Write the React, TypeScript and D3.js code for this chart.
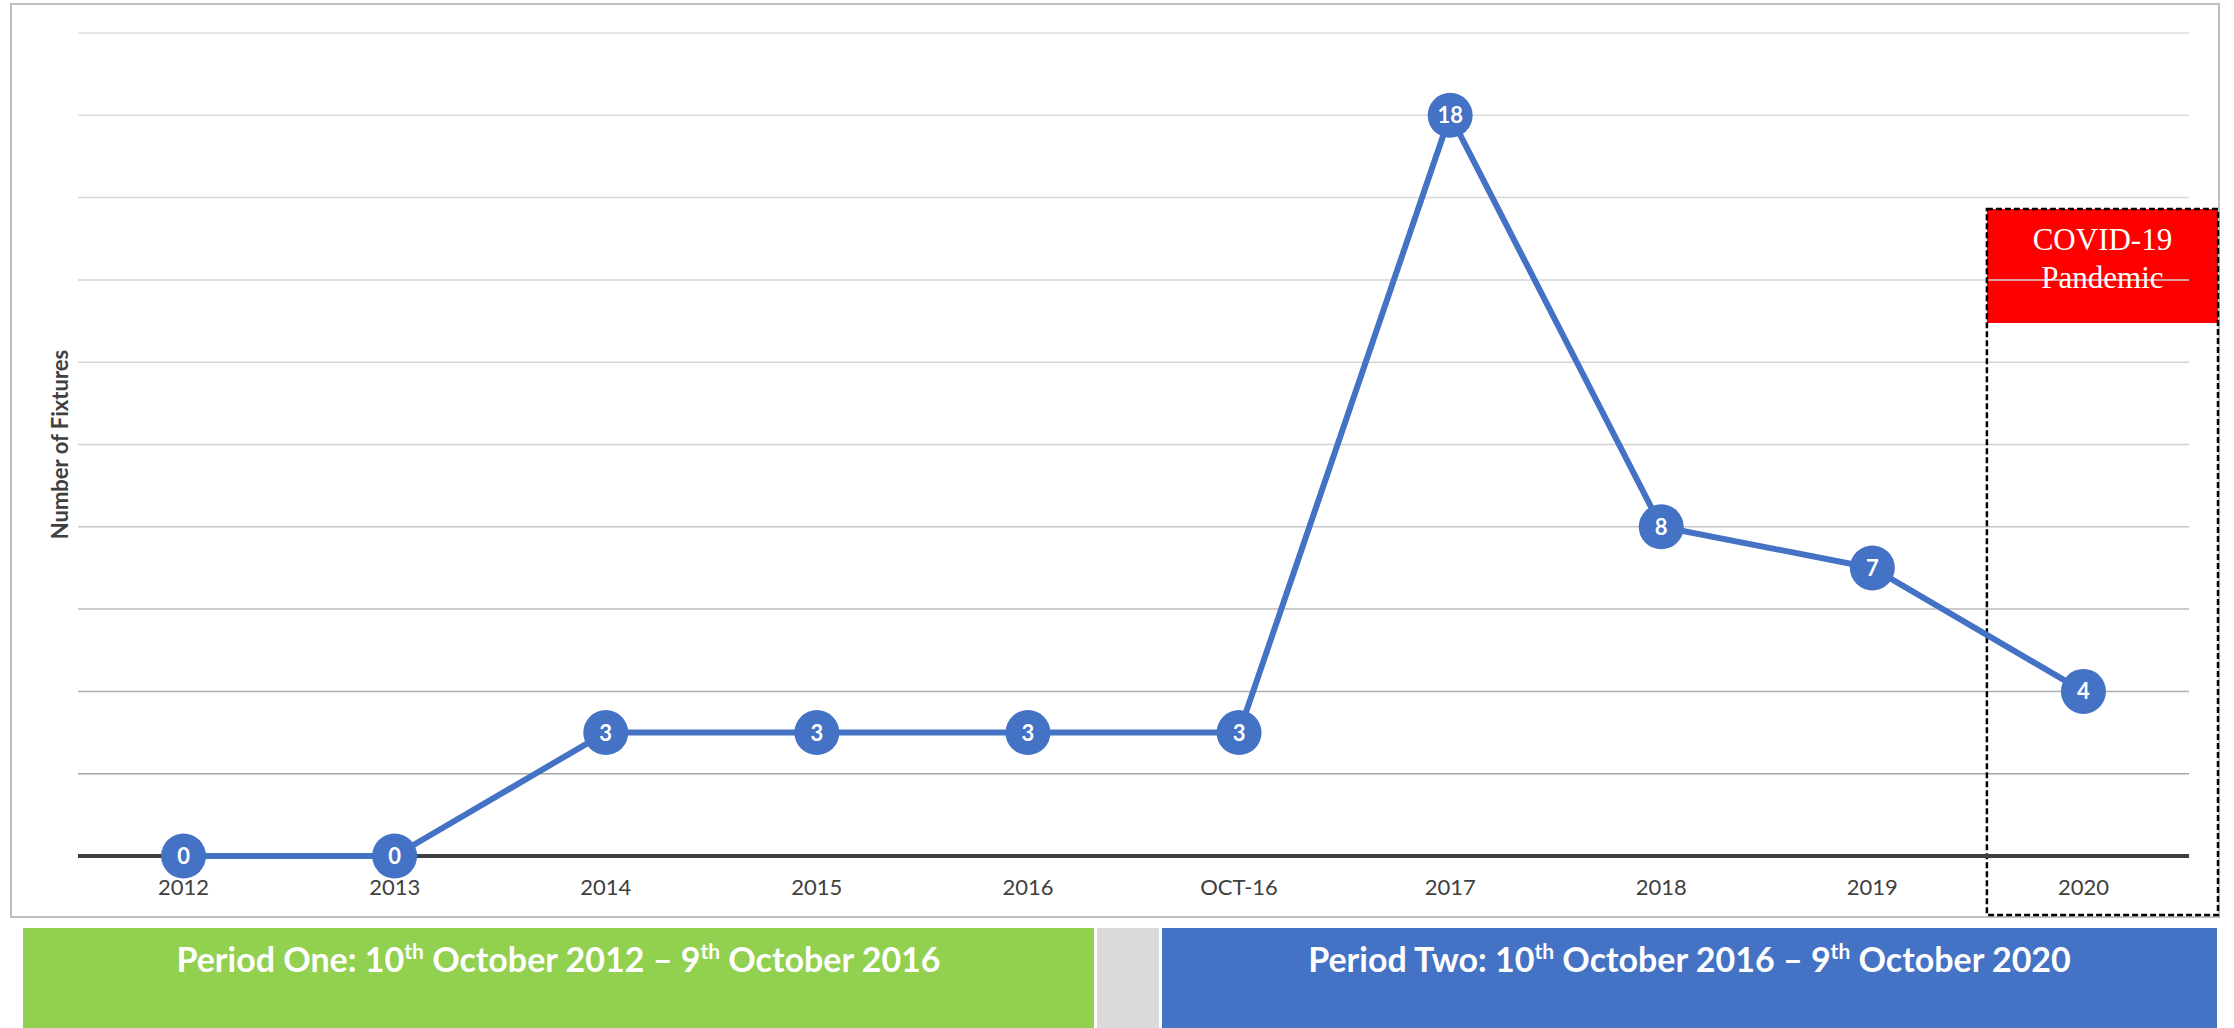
import * as d3 from "d3";

const categories = ["2012", "2013", "2014", "2015", "2016", "OCT-16", "2017", "2018", "2019", "2020"];
const fixtures = [0, 0, 3, 3, 3, 3, 18, 8, 7, 4];
const yTicks = [0, 2, 4, 6, 8, 10, 12, 14, 16, 18, 20];

const periods = [
  { label: "Period One: 10", sup1: "th", mid: " October 2012 – 9", sup2: "th", end: " October 2016", x0: 23, x1: 1094, fill: "#92D050" },
  { label: "", sup1: "", mid: "", sup2: "", end: "", x0: 1097, x1: 1159, fill: "#D9D9D9" },
  { label: "Period Two: 10", sup1: "th", mid: " October 2016 – 9", sup2: "th", end: " October 2020", x0: 1162, x1: 2217, fill: "#4472C4" },
];

export default function App() {
  const width = 2234;
  const height = 1028;
  const plot = { left: 78, right: 2189, top: 33, bottom: 856 };

  const x = d3.scaleBand<string>().domain(categories).range([plot.left, plot.right]);
  const y = d3.scaleLinear().domain([0, 20]).range([plot.bottom, plot.top]);
  const cx = (c: string) => (x(c) ?? 0) + x.bandwidth() / 2;
  const gridColor = d3.scaleLinear<string>().domain([2, 10, 20]).range(["#A6A6A6", "#CFCFCF", "#DEDEDE"]);

  const line = d3
    .line<number>()
    .x((_, i) => cx(categories[i]))
    .y((d) => y(d));

  const covidX0 = x("2020")! + 9;
  const covidX1 = 2218;
  const font = "Lato, 'Open Sans', sans-serif";
  const serif = "'Liberation Serif', 'DejaVu Serif', serif";

  return (
    <svg
      width={width}
      height={height}
      viewBox={`0 0 ${width} ${height}`}
      style={{ position: "absolute", left: 0, top: 0, background: "#fff" }}
    >
      {/* chart frame */}
      <rect x={11} y={4} width={2208} height={913} fill="#fff" stroke="#BFBFBF" strokeWidth={2} />

      {/* covid highlight fill */}
      <rect x={covidX0} y={209} width={covidX1 - covidX0} height={114} fill="#FF0000" />

      {/* grid */}
      {yTicks.slice(1).map((t) => (
        <line key={t} x1={plot.left} x2={plot.right} y1={y(t)} y2={y(t)} stroke={gridColor(t)} strokeWidth={1.5} />
      ))}

      <text x={(covidX0 + covidX1) / 2} y={250} textAnchor="middle" fill="#fff" fontFamily={serif} fontSize={31}>
        COVID-19
      </text>
      <text x={(covidX0 + covidX1) / 2} y={288} textAnchor="middle" fill="#fff" fontFamily={serif} fontSize={31}>
        Pandemic
      </text>

      {/* covid dashed outline */}
      <rect
        x={covidX0}
        y={209}
        width={covidX1 - covidX0}
        height={915 - 209}
        fill="none"
        stroke="#000"
        strokeWidth={2.5}
        strokeDasharray="6 3"
      />

      {/* baseline axis */}
      <line x1={plot.left} x2={plot.right} y1={y(0)} y2={y(0)} stroke="#404040" strokeWidth={4} />

      {/* x tick labels */}
      {categories.map((c) => (
        <text key={c} x={cx(c)} y={895} textAnchor="middle" fill="#404040" fontFamily={font} fontSize={22}>
          {c}
        </text>
      ))}

      {/* y axis title */}
      <text
        transform={`translate(68, ${(plot.top + plot.bottom) / 2}) rotate(-90)`}
        textAnchor="middle"
        fill="#404040"
        fontFamily={font}
        fontWeight="bold"
        fontSize={22}
      >
        Number of Fixtures
      </text>

      {/* series */}
      <path d={line(fixtures) ?? ""} fill="none" stroke="#4472C4" strokeWidth={6} strokeLinejoin="round" />
      {fixtures.map((v, i) => (
        <g key={categories[i]}>
          <circle cx={cx(categories[i])} cy={y(v)} r={22.5} fill="#4472C4" />
          <text
            x={cx(categories[i])}
            y={y(v) + 8}
            textAnchor="middle"
            fill="#fff"
            fontFamily={font}
            fontWeight="bold"
            fontSize={22}
          >
            {v}
          </text>
        </g>
      ))}

      {/* period bands */}
      {periods.map((p, i) => (
        <g key={i}>
          <rect x={p.x0} y={928} width={p.x1 - p.x0} height={height - 928} fill={p.fill} />
          {p.label && (
            <text
              x={(p.x0 + p.x1) / 2}
              y={972}
              textAnchor="middle"
              fill="#fff"
              fontFamily={font}
              fontWeight="bold"
              fontSize={34}
            >
              {p.label}
              <tspan fontSize={21} dy={-13}>{p.sup1}</tspan>
              <tspan dy={13}>{p.mid}</tspan>
              <tspan fontSize={21} dy={-13}>{p.sup2}</tspan>
              <tspan dy={13}>{p.end}</tspan>
            </text>
          )}
        </g>
      ))}
    </svg>
  );
}
